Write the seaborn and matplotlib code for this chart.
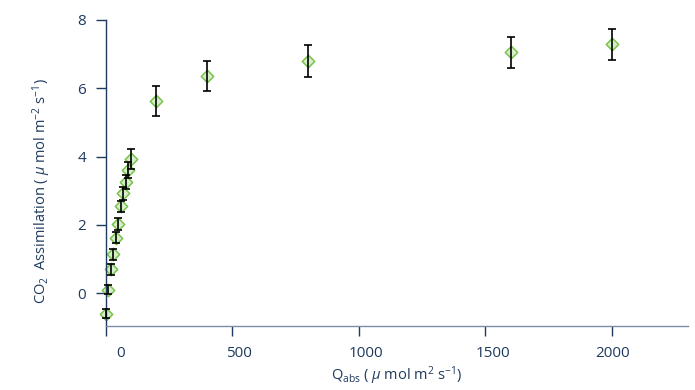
import matplotlib
matplotlib.use('Agg')
import matplotlib.pyplot as plt
import matplotlib.transforms as transforms
import seaborn as sns
import pandas as pd
import numpy as np

# light response data
q_abs = [0, 10, 20, 30, 40, 50, 60, 70, 80, 90, 100, 200, 400, 800, 1600, 2000]
assim = [-0.6, 0.1, 0.7, 1.14, 1.63, 2.02, 2.54, 2.92, 3.26, 3.61, 3.92,
         5.63, 6.36, 6.8, 7.05, 7.29]
err = [0.13, 0.13, 0.16, 0.16, 0.16, 0.17, 0.15, 0.18, 0.21, 0.24, 0.29,
       0.44, 0.45, 0.46, 0.46, 0.45]
x_ticks = [0, 500, 1000, 1500, 2000]
y_ticks = [0, 2, 4, 6, 8]

df = pd.DataFrame({'q': q_abs, 'a': assim, 'e': err})

sns.set_style('ticks')
plt.rcParams['font.family'] = ['Open Sans', 'DejaVu Sans']
plt.rcParams['mathtext.fontset'] = 'custom'
plt.rcParams['mathtext.rm'] = 'Open Sans'
plt.rcParams['mathtext.it'] = 'Open Sans:italic'

navy = '#1f3a5f'

fig = plt.figure(figsize=(6.95, 3.9), dpi=100)
ax = fig.add_axes([0.152, 0.165, 0.838, 0.784])

sns.scatterplot(data=df, x='q', y='a', marker='D', s=40,
                color='#d6efc8', edgecolor='#78c24e', linewidth=1.1,
                ax=ax, zorder=2, clip_on=False)
ax.errorbar(df['q'], df['a'], yerr=df['e'], fmt='none', ecolor='black',
            elinewidth=1.2, capsize=3.2, capthick=1.2, zorder=3, clip_on=False)

ax.set_xlim(0, 2300)
ax.set_ylim(-0.95, 8)
ax.set_xticks(x_ticks)
ax.set_yticks(y_ticks)

for s in ['top', 'right']:
    ax.spines[s].set_visible(False)
ax.spines['left'].set_color(navy)
ax.spines['bottom'].set_color('#7d8ca3')
ax.spines['left'].set_linewidth(1.0)
ax.spines['bottom'].set_linewidth(1.0)
ax.tick_params(axis='both', direction='out', length=7, width=1.0,
               color=navy, labelcolor=navy, labelsize=11)
ax.tick_params(axis='y', pad=7)
ax.tick_params(axis='x', pad=8)

# the x tick labels sit a little right of their ticks in the original
shifts = [15, 7, 7, 7, 0]
for lab, dx in zip(ax.get_xticklabels(), shifts):
    lab.set_transform(lab.get_transform() +
                      transforms.ScaledTranslation(dx / 100, 0, fig.dpi_scale_trans))

ax.set_xlabel(r'Q$_{\rm abs}$ ( $\mathit{\mu}$ mol m$^{2}$ s$^{-1}$)',
              fontsize=10.5, color=navy, labelpad=2)
ax.set_ylabel(r'CO$_2$  Assimilation ( $\mathit{\mu}$ mol m$^{-2}$ s$^{-1}$)',
              fontsize=10.5, color=navy, labelpad=10)
ax.yaxis.set_label_coords(-0.09, 0.44)

fig.savefig('out.png', dpi=100)
